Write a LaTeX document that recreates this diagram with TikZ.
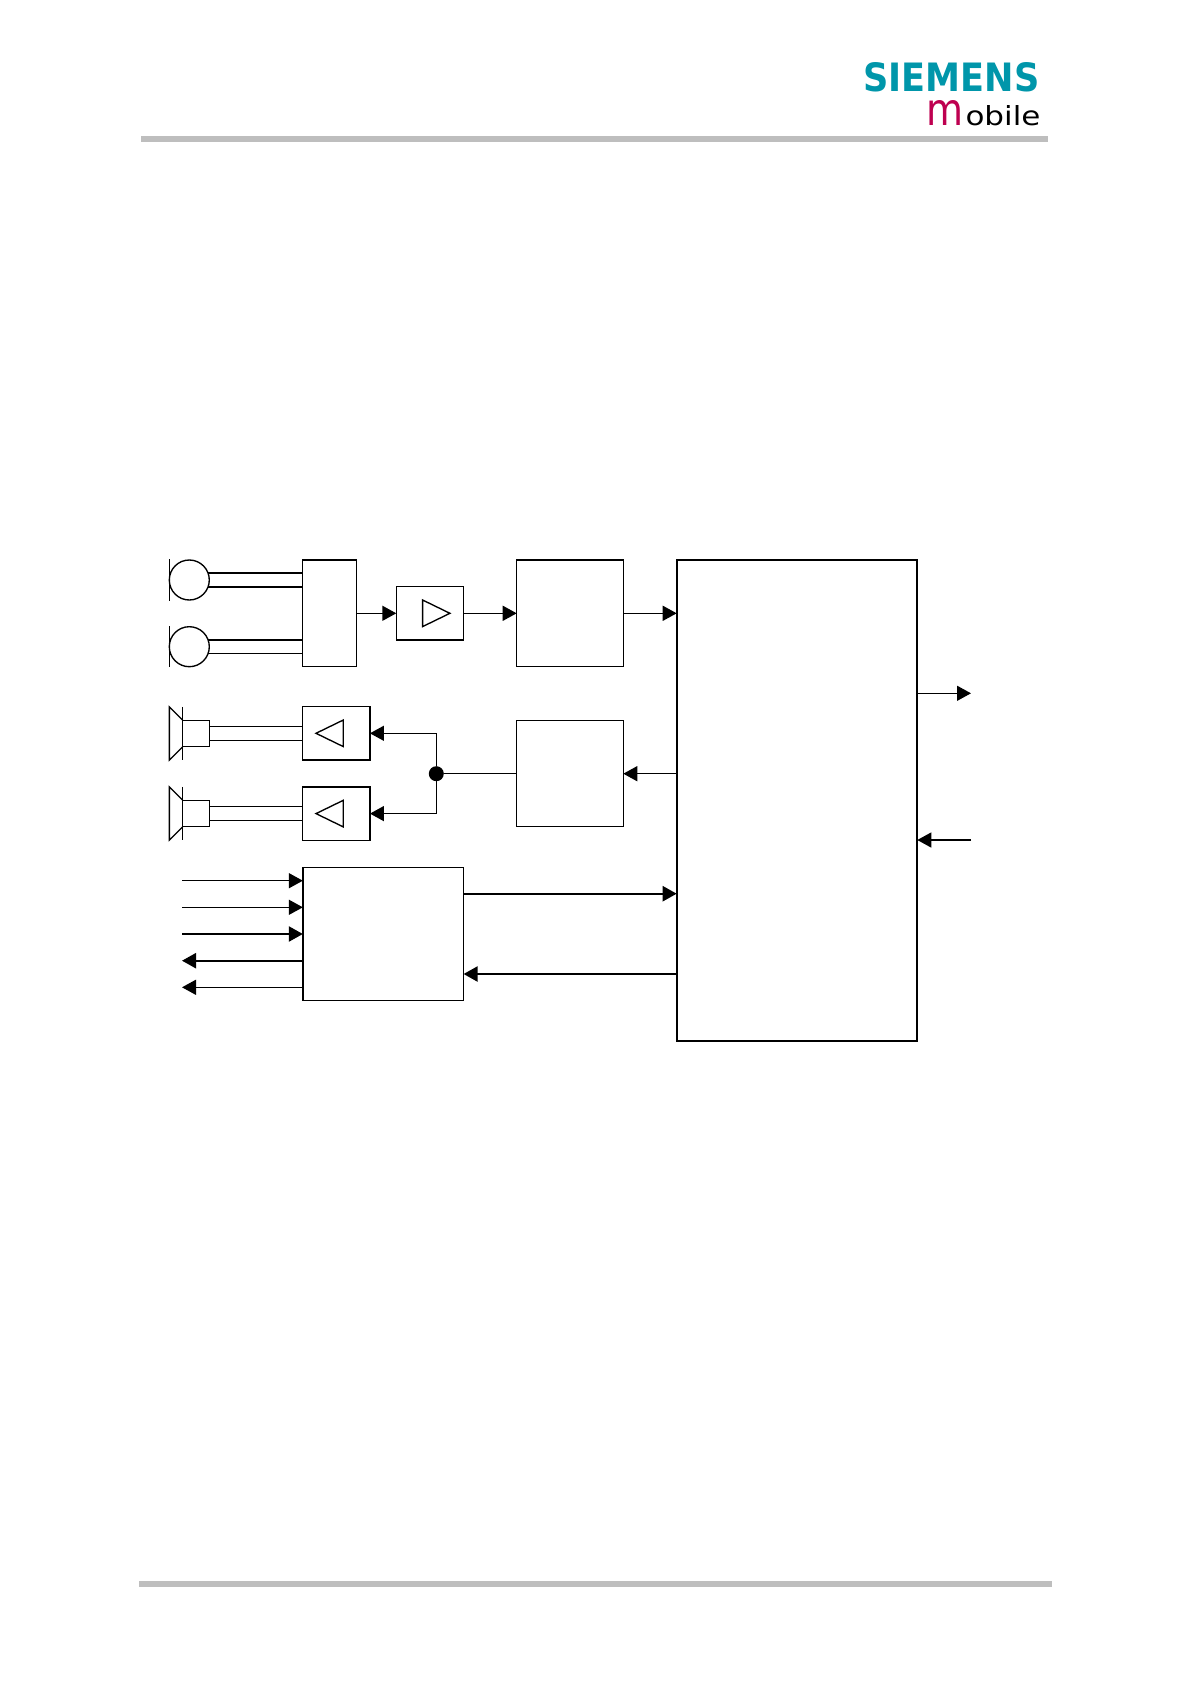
\documentclass[tikz,border=0pt]{standalone}
\usepackage{graphicx}
\usepackage{fontspec}
\setmainfont{DejaVu Sans}
\usetikzlibrary{arrows.meta}
\usetikzlibrary{calc}
\definecolor{logoteal}{RGB}{0,150,170}
\definecolor{logored}{RGB}{190,0,80}
\definecolor{rulegray}{RGB}{190,190,190}
\tikzset{
  block/.style={draw,line width=1.5pt,inner sep=0pt,outer sep=0pt},
  wire/.style={line width=1.35pt},
  sig/.style={line width=1.4pt,-{Triangle[length=14pt,width=15pt]}},
  busarrow/.style={line width=2.3pt,-{Triangle[length=14pt,width=15pt]}},
  capsule/.style={draw,circle,line width=1.35pt,minimum size=40pt,inner sep=0pt,outer sep=0pt},
  rulebar/.style={fill=rulegray,draw=none,inner sep=0pt,outer sep=0pt},
}
\begin{document}
\begin{tikzpicture}[x=1pt,y=-1pt]
\useasboundingbox (0,0) rectangle (1191,1685);
% header and footer
\node[rulebar,minimum width=907pt,minimum height=6pt] (toprule) at (594.5,139) {};
\node[rulebar,minimum width=913pt,minimum height=6pt] (botrule) at (595.5,1584) {};
\node[inner sep=0pt,text=logoteal] (siemens) at (951.5,77) {\resizebox{176pt}{29pt}{\bfseries SIEMENS}};
\node[inner sep=0pt,text=logored] (logom) at (944.5,113.5) {\resizebox{37pt}{25pt}{m}};
\node[inner sep=0pt] (logoobile) at (1003,115.5) {\resizebox{75pt}{20pt}{obile}};

% blocks
\node[block,minimum width=54pt,minimum height=106.7pt] (mux) at (329.7,613.3) {};
\node[block,minimum width=67pt,minimum height=53.3pt] (ampin) at (429.8,613.3) {};
\node[block,minimum width=106.6pt,minimum height=106.7pt] (adc) at (570,613.3) {};
\node[block,minimum width=106.6pt,minimum height=106pt] (dac) at (570,773.7) {};
\node[block,minimum width=67.3pt,minimum height=53.3pt] (ampup) at (336.3,733.3) {};
\node[block,minimum width=67.3pt,minimum height=53.3pt] (amplow) at (336.3,813.6) {};
\node[block,minimum width=160.7pt,minimum height=133pt] (iface) at (383.2,933.8) {};
\node[block,line width=1.8pt,minimum width=240.6pt,minimum height=480.7pt] (dsp) at (797,800.3) {};
\node[circle,fill=black,minimum size=15pt,inner sep=0pt,outer sep=0pt] (split) at (436.3,773.7) {};

% microphones
\node[capsule] (micup) at (189.3,580) {};
\node[capsule] (miclow) at (189.3,646.7) {};
\draw[wire] (169.3,559.3) -- (169.3,600.7);
\draw[wire] (169.3,626) -- (169.3,667.3);
\draw[wire] (micup.20) -- (micup.20 -| mux.west);
\draw[wire] (micup.-20) -- (micup.-20 -| mux.west);
\draw[wire] (miclow.20) -- (miclow.20 -| mux.west);
\draw[wire] (miclow.-20) -- (miclow.-20 -| mux.west);

% speakers
\node[block,line width=1.35pt,minimum width=26.6pt,minimum height=26.6pt] (spkup) at (196,733.5) {};
\node[block,line width=1.35pt,minimum width=26.6pt,minimum height=26.6pt] (spklow) at (196,813.5) {};
\foreach \spk/\amp in {spkup/ampup,spklow/amplow}{
  \draw[wire] ($(\spk.north west)+(0,-13.3)$) -- ($(\spk.south west)+(0,13.3)$);
  \draw[wire,line join=miter] (\spk.north west) -- ++(-13.3,-13.3) -- ++(0,53.2) -- (\spk.south west);
  \coordinate (tapa) at ($(\spk.east)+(0,-6.7)$);
  \coordinate (tapb) at ($(\spk.east)+(0,6.7)$);
  \draw[wire] (tapa) -- (tapa -| \amp.west);
  \draw[wire] (tapb) -- (tapb -| \amp.west);
}

% triangles inside the amplifiers
\draw[wire] ($(ampin.center)+(-7.2,-13.3)$) -- ++(27.3,13.3) -- ++(-27.3,13.3) -- cycle;
\draw[wire] ($(ampup.center)+(7,-13.3)$) -- ++(-27.3,13.3) -- ++(27.3,13.3) -- cycle;
\draw[wire] ($(amplow.center)+(7,-13.3)$) -- ++(-27.3,13.3) -- ++(27.3,13.3) -- cycle;

% audio path
\draw[sig] (mux.east) -- (ampin.west);
\draw[sig] (ampin.east) -- (adc.west);
\draw[sig] (adc.east) -- (adc.east -| dsp.west);
\draw[sig] (dsp.west |- dac.east) -- (dac.east);
\draw[wire] (dac.west) -- (split);
\draw[sig] (split) |- (ampup.east);
\draw[sig] (split) |- (amplow.east);

% free ends
\coordinate (outend) at (971,693.3);
\coordinate (inend) at (971,840);
\coordinate (lineA) at (182,880.7);
\coordinate (lineB) at (182,907.3);
\coordinate (lineC) at (182,934);
\coordinate (lineD) at (182,960.7);
\coordinate (lineE) at (182,987.3);
\draw[sig] (outend -| dsp.east) -- (outend);
\draw[sig] (inend) -- (inend -| dsp.east);
\draw[sig] (lineA) -- (lineA -| iface.west);
\draw[sig] (lineB) -- (lineB -| iface.west);
\draw[busarrow] (lineC) -- (lineC -| iface.west);
\draw[busarrow] (lineD -| iface.west) -- (lineD);
\draw[sig] (lineE -| iface.west) -- (lineE);

% interface to processor
\coordinate (busout) at (463.6,893.7);
\coordinate (busin) at (463.6,974);
\draw[busarrow] (busout) -- (busout -| dsp.west);
\draw[busarrow] (busin -| dsp.west) -- (busin);
\end{tikzpicture}
\end{document}
